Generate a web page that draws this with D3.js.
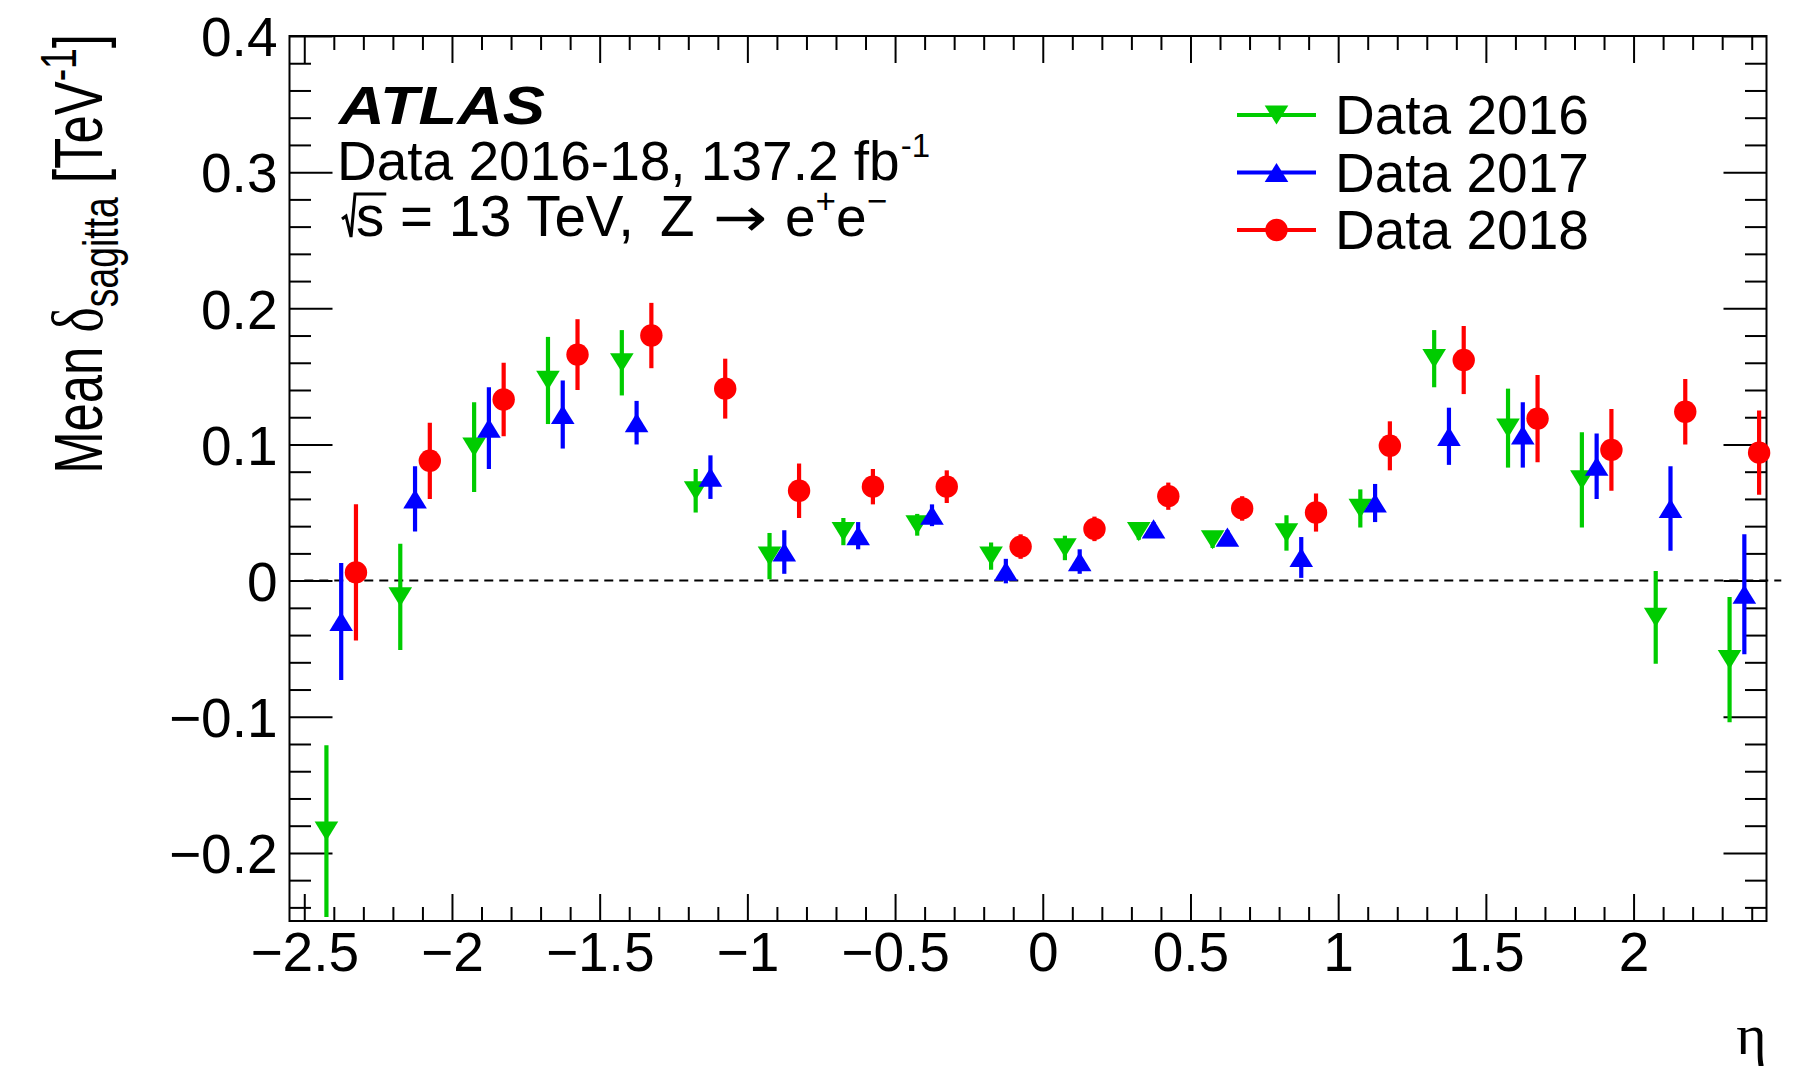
<!DOCTYPE html>
<html>
<head>
<meta charset="utf-8">
<script src="https://cdn.jsdelivr.net/npm/d3@7"></script>
<style>
  html, body { margin: 0; padding: 0; background: #fff; }
  svg { display: block; font-family: 'Liberation Sans', Arial, sans-serif; }
</style>
</head>
<body>
<svg id="chart" width="1804" height="1066"></svg>
<script>
// eta bin centres (20 bins of 0.25)
const ETA_BINS = [-2.375, -2.125, -1.875, -1.625, -1.375, -1.125, -0.875, -0.625, -0.375, -0.125,
                  0.125, 0.375, 0.625, 0.875, 1.125, 1.375, 1.625, 1.875, 2.125, 2.375];

const MEAN_2016 = [-0.184, -0.012, 0.098, 0.147, 0.160, 0.066, 0.018, 0.036, 0.041, 0.018,
                   0.024, 0.036, 0.030, 0.035, 0.053, 0.163, 0.112, 0.074, -0.027, -0.058];
const ERR_2016  = [0.063, 0.039, 0.033, 0.032, 0.024, 0.016, 0.017, 0.010, 0.008, 0.010,
                   0.009, 0.006, 0.006, 0.013, 0.014, 0.021, 0.029, 0.035, 0.034, 0.046];

const MEAN_2017 = [-0.030, 0.060, 0.112, 0.122, 0.116, 0.076, 0.021, 0.033, 0.048, 0.007,
                   0.014, 0.038, 0.032, 0.017, 0.057, 0.106, 0.107, 0.084, 0.053, -0.010];
const ERR_2017  = [0.043, 0.024, 0.030, 0.025, 0.016, 0.016, 0.016, 0.010, 0.008, 0.009,
                   0.009, 0.005, 0.005, 0.015, 0.014, 0.021, 0.024, 0.024, 0.031, 0.044];

const MEAN_2018 = [0.006, 0.088, 0.133, 0.166, 0.180, 0.141, 0.066, 0.069, 0.069, 0.025,
                   0.038, 0.062, 0.053, 0.050, 0.099, 0.162, 0.119, 0.096, 0.124, 0.094];
const ERR_2018  = [0.050, 0.028, 0.027, 0.026, 0.024, 0.022, 0.020, 0.013, 0.012, 0.009,
                   0.009, 0.010, 0.009, 0.014, 0.018, 0.025, 0.032, 0.030, 0.024, 0.031];

const SERIES_NAMES = ['Data 2016', 'Data 2017', 'Data 2018'];

const X_TICKS = [-2.5, -2, -1.5, -1, -0.5, 0, 0.5, 1, 1.5, 2];
const Y_TICKS = [-0.2, -0.1, 0, 0.1, 0.2, 0.3, 0.4];

// --- style
const COLORS = ['#00cc00', '#0000ff', '#ff0000'];
const MARKERS = ['down', 'up', 'circle'];
const X_SHIFT = [-0.05, 0, 0.05];   // series drawn side by side inside each bin
const FONT = "'Liberation Sans', Arial, sans-serif";
const SERIF = "'Liberation Serif', 'Times New Roman', serif";
const FS = 55;

const frame = { left: 289.5, right: 1766.5, top: 36, bottom: 921 };

const svg = d3.select('#chart');

const x = d3.scaleLinear().domain([-2.55, 2.45]).range([frame.left, frame.right]);
const y = d3.scaleLinear().domain([-0.25, 0.4]).range([frame.bottom, frame.top]);

const fmt = d3.format('~g');

function isMajor(v, step) {
    return Math.abs(v / step - Math.round(v / step)) < 1e-6;
}
const xMinor = d3.range(-25, 25).map(d => d / 10).filter(v => !isMajor(v, 0.5));
const yMinor = d3.range(-12, 20).map(d => d / 50).filter(v => !isMajor(v, 0.1));

function styleAxis(g) {
    g.select('.domain').remove();
    g.selectAll('line').attr('stroke', '#000').attr('stroke-width', 2);
    g.selectAll('text')
        .attr('font-size', FS)
        .attr('font-family', FONT)
        .attr('fill', '#000');
}

// --- axes (ticks point inwards, ROOT style)
svg.append('g').attr('transform', `translate(0,${frame.bottom})`)
    .call(d3.axisBottom(x).tickValues(X_TICKS).tickSize(-27).tickPadding(11).tickFormat(fmt))
    .call(styleAxis);
svg.append('g').attr('transform', `translate(0,${frame.bottom})`)
    .call(d3.axisBottom(x).tickValues(xMinor).tickSize(-14).tickFormat(''))
    .call(styleAxis);
svg.append('g').attr('transform', `translate(0,${frame.top})`)
    .call(d3.axisTop(x).tickValues(X_TICKS).tickSize(-27).tickFormat(''))
    .call(styleAxis);
svg.append('g').attr('transform', `translate(0,${frame.top})`)
    .call(d3.axisTop(x).tickValues(xMinor).tickSize(-14).tickFormat(''))
    .call(styleAxis);

svg.append('g').attr('transform', `translate(${frame.left},0)`)
    .call(d3.axisLeft(y).tickValues(Y_TICKS).tickSize(-43).tickPadding(12).tickFormat(fmt))
    .call(styleAxis)
    .selectAll('text').attr('dy', '0.36em');
svg.append('g').attr('transform', `translate(${frame.left},0)`)
    .call(d3.axisLeft(y).tickValues(yMinor).tickSize(-21.5).tickFormat(''))
    .call(styleAxis);
svg.append('g').attr('transform', `translate(${frame.right},0)`)
    .call(d3.axisRight(y).tickValues(Y_TICKS).tickSize(-43).tickFormat(''))
    .call(styleAxis);
svg.append('g').attr('transform', `translate(${frame.right},0)`)
    .call(d3.axisRight(y).tickValues(yMinor).tickSize(-21.5).tickFormat(''))
    .call(styleAxis);

svg.append('rect')
    .attr('x', frame.left).attr('y', frame.top)
    .attr('width', frame.right - frame.left)
    .attr('height', frame.bottom - frame.top)
    .attr('fill', 'none').attr('stroke', '#000').attr('stroke-width', 2);

// --- zero line
svg.append('line')
    .attr('x1', x(-2.5)).attr('x2', x(2.5))
    .attr('y1', y(0)).attr('y2', y(0))
    .attr('stroke', '#000').attr('stroke-width', 2)
    .attr('stroke-dasharray', '9,6');

// --- data
svg.append('clipPath').attr('id', 'plotClip')
    .append('rect')
    .attr('x', frame.left).attr('y', frame.top)
    .attr('width', frame.right - frame.left)
    .attr('height', frame.bottom - frame.top);

const series = [
    { mean: MEAN_2016, err: ERR_2016 },
    { mean: MEAN_2017, err: ERR_2017 },
    { mean: MEAN_2018, err: ERR_2018 }
].map((s, k) => ({
    name: SERIES_NAMES[k],
    color: COLORS[k],
    marker: MARKERS[k],
    points: ETA_BINS.map((eta, i) => ({ eta: eta + X_SHIFT[k], v: s.mean[i], e: s.err[i] }))
}));

function markerPath(type) {
    const hw = 11.8, hh = 9.6;
    if (type === 'down') return `M${-hw},${-hh}L${hw},${-hh}L0,${hh}Z`;
    if (type === 'up') return `M${-hw},${hh}L${hw},${hh}L0,${-hh}Z`;
    return d3.arc()({ innerRadius: 0, outerRadius: 11.2, startAngle: 0, endAngle: 2 * Math.PI });
}

const bars = svg.append('g').attr('clip-path', 'url(#plotClip)');
bars.selectAll('g.errSeries')
    .data(series)
    .enter()
    .append('g')
    .attr('class', 'errSeries')
    .attr('stroke', d => d.color)
    .attr('stroke-width', 4.2)
    .selectAll('line')
    .data(d => d.points)
    .enter()
    .append('line')
    .attr('x1', d => x(d.eta)).attr('x2', d => x(d.eta))
    .attr('y1', d => y(d.v + d.e)).attr('y2', d => y(d.v - d.e));

svg.append('g').selectAll('g.markSeries')
    .data(series)
    .enter()
    .append('g')
    .attr('class', 'markSeries')
    .attr('fill', d => d.color)
    .each(function(s) {
        d3.select(this).selectAll('path')
            .data(s.points)
            .enter()
            .append('path')
            .attr('d', markerPath(s.marker))
            .attr('transform', d => `translate(${x(d.eta)},${y(d.v)})`);
    });

// --- legend
const legend = svg.append('g').attr('class', 'legend');
series.forEach((s, k) => {
    const ly = 115 + k * 57.5;
    legend.append('line')
        .attr('x1', 1237).attr('x2', 1316)
        .attr('y1', ly).attr('y2', ly)
        .attr('stroke', s.color).attr('stroke-width', 4.2);
    legend.append('path')
        .attr('d', markerPath(s.marker))
        .attr('fill', s.color)
        .attr('transform', `translate(1276.5,${ly})`);
    legend.append('text')
        .attr('x', 1335).attr('y', ly + 19)
        .attr('font-size', FS).attr('font-family', FONT)
        .text(s.name);
});

// --- labels
svg.append('text')
    .attr('x', 339).attr('y', 124)
    .attr('font-size', 54).attr('font-family', FONT)
    .attr('font-weight', 'bold').attr('font-style', 'italic')
    .attr('textLength', 206).attr('lengthAdjust', 'spacingAndGlyphs')
    .text('ATLAS');

const lumi = svg.append('text')
    .attr('x', 337).attr('y', 180)
    .attr('font-size', FS).attr('font-family', FONT);
lumi.append('tspan').text('Data 2016-18, 137.2 fb');
lumi.append('tspan').attr('font-size', 33).attr('dy', -23).attr('dx', 1).text('-1');

const base = 236;
const energy = svg.append('text')
    .attr('x', 356).attr('y', base)
    .attr('font-size', 56.5).attr('font-family', FONT);
const sPart = energy.append('tspan').text('s = 13 TeV,');
energy.append('tspan').attr('x', 660).text('Z');
energy.append('tspan').attr('x', 785).attr('font-size', FS).text('e');
energy.append('tspan').attr('font-size', 35).attr('dy', -23).text('+');
energy.append('tspan').attr('font-size', FS).attr('dy', 23).text('e');
energy.append('tspan').attr('font-size', 35).attr('dy', -23).text('\u2212');

svg.append('text')
    .attr('transform', `translate(713,${base}) scale(1.2,1)`)
    .attr('font-size', 54).attr('font-family', "'DejaVu Sans', sans-serif")
    .text('\u2192');

const sW = sPart.node().getSubStringLength(0, 1);
svg.append('path')
    .attr('d', `M342,${base - 17}L346,${base - 20}L351,${base + 1}L355,${base - 42}L${356 + sW + 2},${base - 42}`)
    .attr('fill', 'none').attr('stroke', '#000').attr('stroke-width', 3)
    .attr('stroke-linejoin', 'miter');

// x title
svg.append('text')
    .attr('x', frame.right).attr('y', 1054)
    .attr('text-anchor', 'end')
    .attr('font-size', 58).attr('font-family', SERIF)
    .text('\u03b7');

// y title, squeezed along its length like the original
const yTitleG = svg.append('g').attr('transform', `translate(102,34) rotate(-90)`);
const yTitle = yTitleG.append('text')
    .attr('text-anchor', 'end')
    .attr('font-size', 68).attr('font-family', FONT);
yTitle.append('tspan').text('Mean ');
yTitle.append('tspan').attr('font-family', SERIF).attr('font-size', 72).text('\u03b4');
yTitle.append('tspan').attr('font-size', 50).attr('dy', 16).text('sagitta');
yTitle.append('tspan').attr('dy', -16).text(' [TeV');
yTitle.append('tspan').attr('font-size', 50).attr('dy', -26).text('-1');
yTitle.append('tspan').attr('dy', 26).text(']');

const natural = yTitle.node().getComputedTextLength();
yTitle.attr('transform', `scale(${440 / natural},1)`);
</script>
</body>
</html>
